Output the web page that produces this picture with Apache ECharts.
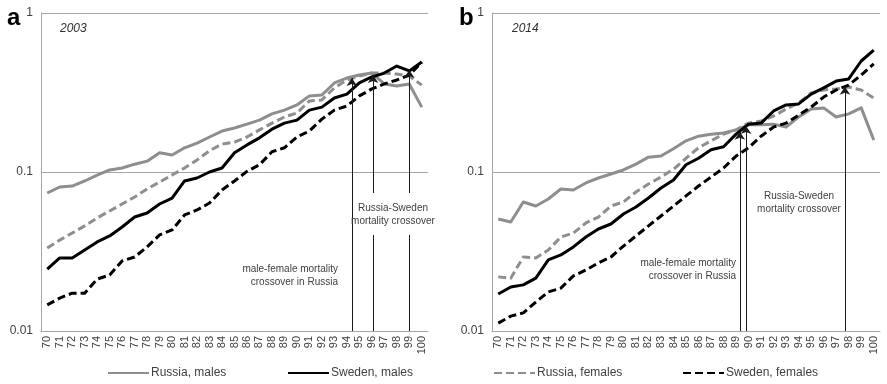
<!DOCTYPE html>
<html>
<head>
<meta charset="utf-8">
<script src="https://cdn.jsdelivr.net/npm/echarts@6/dist/echarts.min.js"></script>
<style>html,body{margin:0;padding:0;background:#fff;}#c{width:887px;height:384px;}</style>
</head>
<body>
<div id="c"></div>
<script>
var ages = ['70','71','72','73','74','75','76','77','78','79','80','81','82','83','84','85','86','87','88','89','90','91','92','93','94','95','96','97','98','99','100'];
var yTicks = [0.01, 0.1, 1];
var seriesNames = ['Russia, males', 'Sweden, males', 'Russia, females', 'Sweden, females'];

var russiaMales2003 = [0.0738,0.0805,0.0816,0.0878,0.0957,0.103,0.106,0.112,0.117,0.132,0.128,0.142,0.152,0.166,0.181,0.189,0.200,0.212,0.232,0.245,0.264,0.301,0.305,0.363,0.390,0.407,0.419,0.358,0.347,0.358,0.256];
var russiaFemales2003 = [0.0333,0.0373,0.0413,0.0458,0.0514,0.0569,0.0629,0.0696,0.0782,0.0865,0.0957,0.106,0.119,0.136,0.150,0.154,0.166,0.184,0.203,0.222,0.235,0.280,0.284,0.338,0.379,0.402,0.419,0.419,0.413,0.402,0.352];
var swedenMales2003 = [0.0245,0.0288,0.0288,0.0323,0.0363,0.0396,0.0451,0.0521,0.0552,0.0629,0.0686,0.0878,0.0917,0.100,0.106,0.132,0.148,0.164,0.186,0.203,0.212,0.245,0.256,0.292,0.309,0.363,0.396,0.419,0.464,0.432,0.492];
var swedenFemales2003 = [0.0146,0.0161,0.0173,0.0173,0.0212,0.0225,0.0276,0.0292,0.0338,0.0402,0.0432,0.0537,0.0577,0.0638,0.0771,0.0878,0.101,0.111,0.134,0.142,0.166,0.181,0.215,0.245,0.260,0.301,0.333,0.358,0.379,0.407,0.492];

var russiaMales2014 = [0.0506,0.0485,0.0648,0.0611,0.0676,0.0782,0.0771,0.0853,0.0917,0.0971,0.103,0.112,0.124,0.126,0.140,0.157,0.168,0.173,0.176,0.184,0.198,0.198,0.200,0.192,0.222,0.249,0.253,0.222,0.232,0.253,0.159];
var russiaFemales2014 = [0.0219,0.0215,0.0292,0.0288,0.0323,0.0390,0.0413,0.0478,0.0521,0.0611,0.0648,0.0749,0.0840,0.0930,0.104,0.122,0.142,0.157,0.173,0.184,0.203,0.209,0.225,0.249,0.272,0.314,0.328,0.333,0.342,0.328,0.292];
var swedenMales2014 = [0.0171,0.0189,0.0195,0.0215,0.0280,0.0301,0.0338,0.0390,0.0438,0.0471,0.0544,0.0602,0.0686,0.0793,0.0891,0.111,0.122,0.138,0.144,0.173,0.200,0.203,0.242,0.264,0.268,0.309,0.338,0.373,0.385,0.499,0.585];
var swedenFemales2014 = [0.0112,0.0124,0.0130,0.0152,0.0176,0.0186,0.0222,0.0242,0.0268,0.0292,0.0342,0.0396,0.0458,0.0529,0.0611,0.0707,0.0816,0.0930,0.106,0.126,0.142,0.168,0.192,0.203,0.228,0.256,0.296,0.328,0.352,0.407,0.478];

// crossover arrows (age position, rate at arrow tip)
var crossoverAges2003 = [94.4, 96.1, 99.0];
var crossoverRates2003 = [0.390, 0.407, 0.438];
var crossoverAges2014 = [89.3, 89.8, 97.7];
var crossoverRates2014 = [0.179, 0.195, 0.344];
// the two right arrows of panel a are interrupted by their label
var labelGap2003 = [0.0402, 0.0738];

var GREY = '#8e8e8e', BLACK = '#000000', TXT = '#404040', AX = '#a6a6a6';
var FONT = 'Liberation Sans';
var DASH = [8, 4];

function lineSeries(name, data, color, dashed, gi) {
  return {
    type: 'line', name: name, data: data, xAxisIndex: gi * 2, yAxisIndex: gi,
    symbol: 'none', showSymbol: false, silent: true, z: 3,
    lineStyle: { color: color, width: 3, type: dashed ? DASH : 'solid', cap: 'butt', join: 'round' },
    itemStyle: { color: color }
  };
}

function xCat(gi) {
  return {
    type: 'category', gridIndex: gi, data: ages, boundaryGap: true,
    axisLine: { show: true, lineStyle: { color: AX, width: 1 } },
    axisTick: { show: false },
    axisLabel: { rotate: 90, interval: 0, fontSize: 11, color: TXT, fontFamily: FONT, margin: 5 },
    splitLine: { show: false }
  };
}
function xVal(gi) {
  return { type: 'value', gridIndex: gi, min: 69.5, max: 100.5, show: false };
}
function yLog(gi) {
  return {
    type: 'log', logBase: 10, gridIndex: gi, min: yTicks[0], max: yTicks[yTicks.length - 1],
    axisLine: { show: true, lineStyle: { color: AX, width: 1 } },
    axisTick: { show: false },
    axisLabel: { fontSize: 12, color: TXT, fontFamily: FONT, margin: 8,
      formatter: function (v) { return String(+v.toPrecision(3)); } },
    splitLine: { show: true, lineStyle: { color: AX, width: 1 } },
    minorSplitLine: { show: false }
  };
}

function arrowData(agesArr, rates, gapArr) {
  var stems = [], heads = [];
  for (var i = 0; i < agesArr.length; i++) {
    var a = agesArr[i];
    if (gapArr && i > 0) {
      stems.push({ coords: [[a, yTicks[0]], [a, gapArr[0]]] });
      heads.push({ coords: [[a, gapArr[1]], [a, rates[i]]] });
    } else {
      heads.push({ coords: [[a, yTicks[0]], [a, rates[i]]] });
    }
  }
  return { stems: stems, heads: heads };
}
function arrowSeries(gi, d) {
  var out = [];
  out.push({
    type: 'lines', coordinateSystem: 'cartesian2d', xAxisIndex: gi * 2 + 1, yAxisIndex: gi,
    symbol: ['none', 'arrow'], symbolSize: [6, 8], silent: true, z: 5,
    lineStyle: { color: '#1a1a1a', width: 1, opacity: 1 }, data: d.heads
  });
  if (d.stems.length) {
    out.push({
      type: 'lines', coordinateSystem: 'cartesian2d', xAxisIndex: gi * 2 + 1, yAxisIndex: gi,
      symbol: ['none', 'none'], silent: true, z: 5,
      lineStyle: { color: '#1a1a1a', width: 1, opacity: 1 }, data: d.stems
    });
  }
  return out;
}

var series = [
  lineSeries(seriesNames[0], russiaMales2003, GREY, false, 0),
  lineSeries(seriesNames[2], russiaFemales2003, GREY, true, 0),
  lineSeries(seriesNames[1], swedenMales2003, BLACK, false, 0),
  lineSeries(seriesNames[3], swedenFemales2003, BLACK, true, 0),
  lineSeries(seriesNames[0], russiaMales2014, GREY, false, 1),
  lineSeries(seriesNames[2], russiaFemales2014, GREY, true, 1),
  lineSeries(seriesNames[1], swedenMales2014, BLACK, false, 1),
  lineSeries(seriesNames[3], swedenFemales2014, BLACK, true, 1)
].concat(arrowSeries(0, arrowData(crossoverAges2003, crossoverRates2003, labelGap2003)))
 .concat(arrowSeries(1, arrowData(crossoverAges2014, crossoverRates2014, null)));

function legend(name, left) {
  return {
    data: [name], left: left, top: 367, itemWidth: 41, itemHeight: 14, itemGap: 0,
    selectedMode: false, padding: 0,
    itemStyle: { opacity: 0, borderWidth: 0 },
    textStyle: { fontSize: 12, color: TXT, fontFamily: FONT, padding: [0, 0, 0, -3] }
  };
}

function txt(x, y, text, opts) {
  var st = { x: x, y: y, text: text, fill: TXT, fontFamily: FONT, fontSize: 10, lineHeight: 13 };
  for (var k in opts) st[k] = opts[k];
  return { type: 'text', silent: true, z: 10, style: st };
}

var option = {
  animation: false,
  backgroundColor: '#fff',
  grid: [
    { left: 41, right: 459, top: 13, bottom: 53, containLabel: false },
    { left: 492, right: 7, top: 13, bottom: 53, containLabel: false }
  ],
  xAxis: [xCat(0), xVal(0), xCat(1), xVal(1)],
  yAxis: [yLog(0), yLog(1)],
  legend: [legend(seriesNames[0], 107), legend(seriesNames[1], 287), legend(seriesNames[2], 493), legend(seriesNames[3], 682)],
  series: series,
  graphic: [
    txt(7, 6, 'a', { fontSize: 24, fontWeight: 'bold', fill: '#000', fontFamily: FONT, lineHeight: 24 }),
    txt(459, 6, 'b', { fontSize: 24, fontWeight: 'bold', fill: '#000', fontFamily: FONT, lineHeight: 24 }),
    txt(60, 22, '2003', { fontSize: 12, fontStyle: 'italic', fill: '#303030' }),
    txt(512, 22, '2014', { fontSize: 12, fontStyle: 'italic', fill: '#303030' }),
    txt(393, 202, 'Russia-Sweden\nmortality crossover', { align: 'center' }),
    txt(338, 263, 'male-female mortality\ncrossover in Russia', { align: 'right' }),
    txt(799, 190, 'Russia-Sweden\nmortality crossover', { align: 'center' }),
    txt(736, 257, 'male-female mortality\ncrossover in Russia', { align: 'right' })
  ]
};

var chart = echarts.init(document.getElementById('c'), null, { renderer: 'canvas' });
chart.setOption(option);
</script>
</body>
</html>
